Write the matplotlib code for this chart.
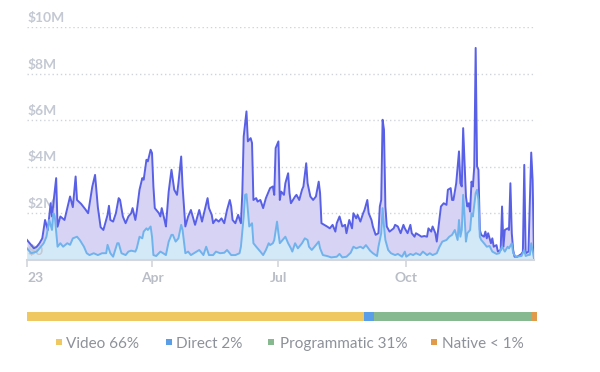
import numpy as np
import matplotlib
matplotlib.use("Agg")
import matplotlib.pyplot as plt
import matplotlib.transforms as mtransforms
from matplotlib.patches import Rectangle

plt.rcParams['font.family'] = ['Lato', 'DejaVu Sans']

# ---------------- data ----------------
start = np.datetime64('2023-01-01')

total_days = [0, 5, 7, 9, 11, 13, 15, 17, 18, 19, 21, 22, 24, 27, 29, 31, 33, 35, 36, 39,
              42, 44, 47, 49, 51, 53, 55, 58, 59, 60, 62, 64, 66, 67, 69, 71, 73, 75, 76, 78,
              79, 81, 83, 84, 86, 87, 89, 90, 91, 92, 95, 96, 97, 99, 100, 102, 104, 106, 108, 109,
              111, 112, 114, 116, 118, 121, 124, 126, 128, 130, 131, 133, 134, 136, 138, 140, 142, 144, 146, 147,
              148, 150, 152, 154, 155, 156, 158, 159, 161, 162, 163, 165, 166, 168, 170, 172, 174, 175, 177, 178,
              179, 181, 182, 183, 185, 186, 188, 189, 190, 193, 194, 196, 198, 199, 201, 202, 204, 206, 208, 210,
              211, 212, 214, 216, 218, 220, 222, 223, 225, 227, 229, 230, 232, 234, 235, 237, 238, 240, 242, 243,
              245, 246, 248, 249, 251, 253, 254, 255, 256, 257, 258, 259, 261, 264, 265, 267, 269, 271, 272, 274,
              276, 277, 279, 280, 282, 284, 286, 288, 289, 291, 292, 294, 295, 296, 298, 300, 302, 303, 305, 306,
              307, 309, 311, 312, 313, 314, 315, 316, 317, 318, 319, 320, 321, 322, 323, 324, 325, 326, 327, 329,
              330, 331, 332, 334, 335, 336, 338, 339, 341, 342, 343, 344, 346, 347, 348, 349, 350, 351, 353, 356,
              357, 358, 359, 361, 363, 364, 365]
total_vals = [0.84, 0.48, 0.55, 0.70, 0.91, 1.70, 1.27, 2.42, 1.85, 2.42, 3.50, 1.41, 1.85, 1.70, 2.21, 2.71, 2.25, 3.57, 2.56, 2.39,
              2.16, 1.99, 3.13, 3.64, 2.25, 1.39, 1.27, 1.92, 2.31, 1.70, 1.63, 1.99, 2.64, 2.56, 1.85, 1.56, 1.85, 1.99, 2.21, 1.70,
              2.06, 3.00, 3.50, 3.43, 4.29, 4.22, 4.72, 4.58, 3.14, 2.21, 1.99, 1.85, 2.21, 1.70, 1.42, 2.92, 3.86, 3.00, 2.78, 3.28,
              4.43, 3.14, 1.42, 1.85, 2.13, 1.49, 2.13, 1.63, 2.13, 2.64, 2.21, 1.92, 1.56, 1.73, 1.63, 1.77, 1.56, 2.13, 2.56, 2.28,
              1.70, 1.56, 1.92, 1.56, 2.85, 5.29, 6.37, 5.08, 5.22, 5.01, 2.56, 2.64, 2.49, 2.56, 2.21, 2.64, 2.92, 3.07, 3.14, 2.78,
              4.79, 5.08, 2.56, 2.92, 2.78, 3.28, 3.71, 2.85, 2.42, 2.71, 2.78, 2.56, 3.00, 3.14, 4.14, 3.28, 2.71, 2.56, 2.71, 3.35,
              2.85, 1.56, 1.49, 1.42, 1.34, 1.49, 1.20, 1.56, 1.85, 1.42, 1.49, 1.13, 1.70, 1.34, 1.99, 1.77, 1.92, 1.63, 1.99, 2.13,
              2.56, 1.99, 1.70, 1.42, 1.06, 1.13, 2.28, 2.56, 6.01, 5.58, 2.28, 1.42, 1.20, 1.34, 1.49, 1.42, 1.13, 1.49, 1.34, 1.13,
              1.49, 1.13, 0.98, 1.13, 1.06, 0.98, 1.01, 0.98, 1.34, 1.20, 1.42, 1.13, 0.77, 1.27, 2.28, 2.42, 2.35, 3.00, 3.07, 2.56,
              2.56, 3.28, 4.65, 3.28, 3.14, 5.65, 4.14, 2.71, 2.28, 2.42, 2.06, 3.35, 3.14, 4.00, 9.10, 4.00, 3.86, 1.27, 1.06, 0.98,
              1.20, 0.91, 1.13, 0.70, 0.91, 0.55, 0.62, 0.34, 0.41, 2.28, 0.55, 1.27, 1.34, 1.27, 3.28, 1.13, 0.41, 0.12, 0.12, 0.24,
              0.34, 4.07, 0.27, 0.34, 4.60, 3.43, 0.05]

video_days = [0, 3, 7, 9, 12, 14, 16, 18, 19, 20, 22, 24, 26, 29, 31, 33, 36, 38, 41, 43,
              45, 48, 51, 54, 57, 58, 60, 62, 65, 66, 68, 71, 73, 75, 78, 79, 81, 83, 84, 86,
              87, 89, 90, 91, 93, 96, 98, 100, 102, 104, 105, 107, 109, 111, 112, 114, 116, 118, 122, 124,
              127, 129, 131, 134, 136, 139, 142, 144, 147, 150, 153, 154, 156, 157, 158, 159, 160, 162, 163, 165,
              168, 170, 172, 174, 175, 177, 178, 180, 181, 182, 184, 186, 188, 190, 191, 193, 195, 198, 200, 202,
              203, 205, 207, 210, 211, 213, 216, 219, 223, 225, 227, 230, 233, 235, 237, 240, 242, 244, 247, 249,
              252, 253, 255, 256, 257, 258, 260, 262, 265, 267, 270, 272, 273, 276, 278, 280, 283, 285, 288, 290,
              292, 295, 297, 299, 302, 304, 306, 308, 310, 311, 312, 313, 314, 315, 316, 317, 319, 320, 321, 323,
              324, 325, 326, 327, 329, 331, 333, 335, 338, 340, 342, 344, 346, 347, 349, 350, 352, 356, 358, 359,
              361, 362, 363, 365]
video_vals = [0.48, 0.27, 0.34, 0.48, 0.70, 0.98, 1.70, 1.27, 1.99, 1.85, 0.55, 0.70, 0.55, 0.70, 0.63, 0.91, 0.98, 0.84, 0.55, 0.27,
              0.19, 0.27, 0.19, 0.27, 0.27, 0.63, 0.27, 0.12, 0.70, 0.70, 0.27, 0.19, 0.34, 0.38, 0.34, 0.48, 0.98, 0.91, 1.20, 1.34,
              1.27, 1.42, 0.98, 0.19, 0.15, 0.34, 0.27, 0.19, 0.77, 1.06, 1.06, 0.77, 0.91, 1.49, 1.27, 0.27, 0.34, 0.19, 0.34, 0.41,
              0.19, 0.55, 0.19, 0.19, 0.34, 0.27, 0.29, 0.41, 0.19, 0.19, 0.27, 0.55, 1.85, 2.78, 2.81, 2.13, 1.42, 1.56, 0.70, 0.55,
              0.34, 0.19, 0.41, 0.70, 0.62, 0.70, 0.84, 1.63, 1.13, 0.70, 0.84, 0.98, 0.70, 0.48, 0.34, 0.70, 0.48, 0.70, 0.91, 0.84,
              0.55, 0.41, 0.55, 0.77, 0.48, 0.19, 0.15, 0.09, 0.12, 0.24, 0.09, 0.12, 0.29, 0.55, 0.48, 0.55, 0.48, 0.62, 0.38, 0.27,
              0.15, 0.55, 1.13, 2.21, 1.42, 0.84, 0.41, 0.27, 0.19, 0.24, 0.12, 0.34, 0.12, 0.24, 0.19, 0.27, 0.19, 0.34, 0.19, 0.27,
              0.19, 0.27, 0.55, 0.77, 0.84, 0.98, 1.06, 1.27, 0.84, 1.70, 0.98, 1.27, 2.78, 1.85, 0.77, 1.13, 1.27, 1.99, 1.85, 2.85,
              3.00, 2.56, 0.98, 0.84, 0.70, 0.55, 0.58, 0.34, 0.24, 0.27, 0.55, 0.34, 0.55, 0.48, 0.70, 0.27, 0.12, 0.15, 0.41, 0.15,
              0.20, 0.20, 0.70, 0.05]

x_tick_days = [0, 90, 181, 273]
x_tick_labels = ['23', 'Apr', 'Jul', 'Oct']
y_ticks = [0, 2, 4, 6, 8, 10]
y_tick_labels = ['$0', '$2M', '$4M', '$6M', '$8M', '$10M']

mix_labels = ['Video 66%', 'Direct 2%', 'Programmatic 31%', 'Native < 1%']
mix_shares = [66, 2, 31, 1]
mix_colors = ['#f0c862', '#5b9ee8', '#86b98f', '#e09a4a']

# ---------------- figure ----------------
W, H = 600, 372
fig = plt.figure(figsize=(W / 100, H / 100), dpi=100)
fig.patch.set_facecolor('white')

ax = fig.add_axes([27 / W, 112.5 / H, 507 / W, 232.5 / H])
tdates = start + np.array(total_days).astype('timedelta64[D]')
vdates = start + np.array(video_days).astype('timedelta64[D]')

ax.fill_between(tdates, total_vals, 0, color='#d7d3f5', lw=0, zorder=1)
ax.fill_between(vdates, video_vals, 0, color='#d4e9f8', lw=0, zorder=1.1)
ax.plot(tdates, total_vals, color='#5860e6', lw=1.4, zorder=3)
ax.plot(vdates, video_vals, color='#70b3ec', lw=1.4, zorder=3.1)

ax.set_xlim(start, start + np.timedelta64(365, 'D'))
ax.set_ylim(0, 10)

for s in ['top', 'right', 'left']:
    ax.spines[s].set_visible(False)
ax.spines['bottom'].set_color('#d3d6dd')
ax.spines['bottom'].set_linewidth(1.5)
ax.spines['bottom'].set_zorder(4)

ax.set_yticks(y_ticks)
ax.tick_params(axis='y', length=0, labelleft=False)
ax.yaxis.grid(True, linestyle=(0, (1, 2)), color='#cfd3da', lw=1)
ax.set_axisbelow(True)

tick_dates = start + np.array(x_tick_days).astype('timedelta64[D]')
ax.set_xticks(tick_dates)
ax.set_xticklabels(x_tick_labels)
ax.tick_params(axis='x', length=5, width=1.2, color='#d3d6dd', pad=4,
               labelsize=10, labelcolor='#b9bdc6')
for lbl in ax.get_xticklabels():
    lbl.set_fontweight('bold')
ax.get_xticklabels()[0].set_horizontalalignment('left')

trans = mtransforms.blended_transform_factory(ax.transAxes, ax.transData)
for v, lab in zip(y_ticks, y_tick_labels):
    ax.annotate(lab, xy=(0, v), xycoords=trans, xytext=(1, 3), textcoords='offset pixels',
                ha='left', va='bottom', fontsize=10, fontweight='bold', color='#c3c8d2',
                zorder=2, annotation_clip=False)

# ---------------- mix bar ----------------
bax = fig.add_axes([27 / W, (H - 321) / H, 510 / W, 9 / H])
left = 0
for share, col in zip(mix_shares, mix_colors):
    bax.barh(0, share, left=left, height=1, color=col, lw=0)
    left += share
bax.set_xlim(0, sum(mix_shares))
bax.set_ylim(-0.5, 0.5)
bax.axis('off')

marker_x = [56, 166, 268, 431]
text_x = [66, 176, 280, 442]
for mx, tx, lab, col in zip(marker_x, text_x, mix_labels, mix_colors):
    fig.patches.append(Rectangle((mx / W, (H - 345) / H), 6 / W, 6 / H,
                                 transform=fig.transFigure, color=col, lw=0))
    fig.text(tx / W, (H - 344) / H, lab, ha='left', va='center', fontsize=11, color='#8d9199')

fig.savefig('out.png', dpi=100)
